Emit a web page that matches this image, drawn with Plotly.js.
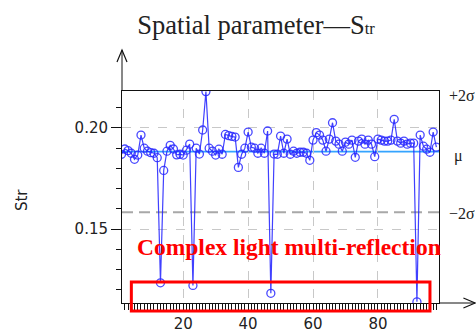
<!DOCTYPE html>
<html>
<head>
<meta charset="utf-8">
<script src="https://cdn.plot.ly/plotly-3.0.1.min.js"></script>
<style>html,body{margin:0;padding:0;background:#fff;}#chart{width:476px;height:333px;}</style>
</head>
<body>
<div id="chart"></div>
<script>
// ---- data ----
const sampleIndex = [1,2,3,4,5,6,7,8,9,10,11,12,13,14,15,16,17,18,19,20,21,22,23,24,25,26,27,28,29,30,31,32,33,34,35,36,37,38,39,40,41,42,43,44,45,46,47,48,49,50,51,52,53,54,55,56,57,58,59,60,61,62,63,64,65,66,67,68,69,70,71,72,73,74,75,76,77,78,79,80,81,82,83,84,85,86,87,88,89,90,91,92,93,94,95,96,97,98];
const strValues = [0.1870,0.1896,0.1888,0.1875,0.1845,0.1866,0.1965,0.1900,0.1885,0.1878,
  0.1875,0.1853,0.1234,0.1790,0.1885,0.1914,0.1896,0.1867,0.1870,0.1866,
  0.1890,0.1920,0.1221,0.1900,0.1871,0.1990,0.2180,0.1900,0.1885,0.1866,
  0.1895,0.1870,0.1968,0.1962,0.1958,0.1955,0.1805,0.1870,0.1900,0.1980,
  0.1905,0.1900,0.1875,0.1900,0.1875,0.1985,0.1182,0.1871,0.1870,0.1960,
  0.1875,0.1945,0.1870,0.1885,0.1875,0.1880,0.1880,0.1875,0.1840,0.1940,
  0.1977,0.1965,0.1940,0.1885,0.1945,0.2026,0.1935,0.1920,0.1885,0.1930,
  0.1920,0.1940,0.1855,0.1935,0.1945,0.1920,0.1940,0.1920,0.1858,0.1945,
  0.1940,0.1935,0.1935,0.1940,0.2043,0.1935,0.1925,0.1935,0.1920,0.1925,
  0.1925,0.1140,0.1965,0.1910,0.1895,0.1880,0.1980,0.1905];
const meanValue = 0.1883;
const plus2Sigma = 0.2183;
const minus2Sigma = 0.1583;
const xTickVals = [20,40,60,80];
const xTickText = ["20","40","60","80"];
const yTickVals = [0.15,0.20];
const yTickText = ["0.15","0.20"];
const refLabels = ["+2σ","μ","−2σ"];
const chartTitle = "Spatial parameter—S<span style='font-size:16.5px'>tr</span>";
const yTitle = "Str";
const noteText = "Complex light multi-reflection";

const trace = {
  x: sampleIndex, y: strValues, type: 'scatter', mode: 'lines+markers',
  line: {color: 'rgba(30,30,255,0.85)', width: 1.2},
  marker: {symbol: 'circle-open', size: 8, color: 'rgba(40,40,255,0.85)', line: {width: 1.3}},
  cliponaxis: true, hoverinfo: 'skip'
};

const black = '#111';
const layout = {
  width: 476, height: 333,
  margin: {l: 122, r: 37, t: 91, b: 30},
  paper_bgcolor: '#fff', plot_bgcolor: '#fff',
  showlegend: false,
  title: {text: chartTitle, font: {family: 'Liberation Serif, serif', size: 26.5, color: '#222'},
          xref: 'container', x: 0.538, xanchor: 'center', yref: 'container', y: 0.925, yanchor: 'middle'},
  xaxis: {
    range: [1.15, 98.8], tickvals: xTickVals, ticktext: xTickText,
    showline: true, mirror: true, linecolor: black, linewidth: 1,
    ticks: 'outside', ticklen: 7, tickcolor: black, tickwidth: 1,
    showgrid: true, gridcolor: '#c8c8c8', griddash: 'dash', gridwidth: 1,
    minor: {dtick: 1, ticks: 'outside', ticklen: 6, tickcolor: black, showgrid: false},
    zeroline: false,
    tickfont: {family: 'DejaVu Sans, sans-serif', size: 15, color: '#222'}
  },
  yaxis: {
    range: [0.1134, plus2Sigma], tickvals: yTickVals, ticktext: yTickText,
    showline: true, mirror: true, linecolor: black, linewidth: 1,
    ticks: 'outside', ticklen: 10, tickcolor: black, tickwidth: 1,
    showgrid: true, gridcolor: '#c8c8c8', griddash: 'dash', gridwidth: 1,
    minor: {dtick: 0.01, ticks: 'outside', ticklen: 5, tickcolor: black, showgrid: false},
    zeroline: false,
    tickfont: {family: 'DejaVu Sans, sans-serif', size: 15, color: '#222'}
  },
  shapes: [
    {type: 'line', xref: 'paper', yref: 'y', x0: 0, x1: 1, y0: minus2Sigma, y1: minus2Sigma,
     line: {color: '#a8a8a8', width: 2, dash: '11px,6px'}, layer: 'below'},
    {type: 'line', xref: 'paper', yref: 'y', x0: 0, x1: 1, y0: meanValue, y1: meanValue,
     line: {color: '#35a4ff', width: 1.6}, layer: 'below'},
    {type: 'line', xref: 'paper', yref: 'paper', x0: 0, x1: 0, y0: 1, y1: 1.193, line: {color: black, width: 1}},
    {type: 'path', xref: 'paper', yref: 'paper', path: 'M -0.0158 1.137 L 0 1.193 L 0.0158 1.137', line: {color: black, width: 1.2}},
    {type: 'line', xref: 'paper', yref: 'paper', x0: 1, x1: 1.114, y0: 0, y1: 0, line: {color: black, width: 1}},
    {type: 'path', xref: 'paper', yref: 'paper', path: 'M 1.077 0.0236 L 1.114 0 L 1.077 -0.0236', line: {color: black, width: 1.2}},
    {type: 'rect', xref: 'paper', yref: 'paper', x0: 0.0295, x1: 0.9715, y0: -0.038, y1: 0.099,
     line: {color: '#ff0000', width: 3}, fillcolor: 'rgba(0,0,0,0)'}
  ],
  annotations: [
    {text: noteText, xref: 'paper', yref: 'paper', x: 0.528, y: 0.264, showarrow: false,
     xanchor: 'center', yanchor: 'middle',
     font: {family: 'Liberation Serif, serif', size: 23.5, color: '#ff0000', weight: 'bold'}},
    {text: yTitle, xref: 'paper', yref: 'paper', x: -0.315, y: 0.486, textangle: -90, showarrow: false,
     xanchor: 'center', yanchor: 'middle', font: {family: 'DejaVu Sans, sans-serif', size: 15, color: '#222'}},
    {text: refLabels[0], xref: 'paper', yref: 'paper', x: 1.025, y: 0.981, showarrow: false, xanchor: 'left', yanchor: 'middle',
     font: {family: 'Liberation Serif, serif', size: 16, color: '#222'}},
    {text: refLabels[1], xref: 'paper', yref: 'paper', x: 1.04, y: 0.694, showarrow: false, xanchor: 'left', yanchor: 'middle',
     font: {family: 'Liberation Serif, serif', size: 16, color: '#222'}},
    {text: refLabels[2], xref: 'paper', yref: 'paper', x: 1.025, y: 0.42, showarrow: false, xanchor: 'left', yanchor: 'middle',
     font: {family: 'Liberation Serif, serif', size: 16, color: '#222'}}
  ]
};

Plotly.newPlot('chart', [trace], layout, {staticPlot: true, displayModeBar: false});
</script>
</body>
</html>
